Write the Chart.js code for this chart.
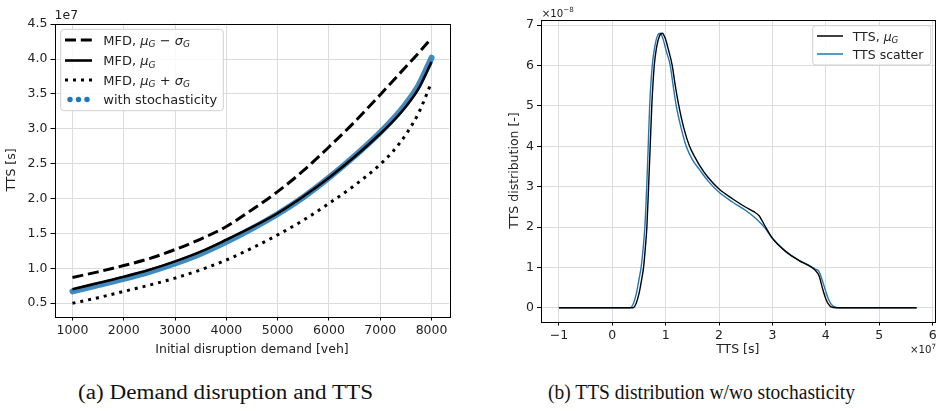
<!DOCTYPE html>
<html>
<head>
<meta charset="utf-8">
<script src="https://cdn.jsdelivr.net/npm/chart.js@4.4.0/dist/chart.umd.min.js"></script>
<style>
  body { margin: 0; background: #fff; width: 944px; height: 411px; position: relative; overflow: hidden; }
  canvas { position: absolute; top: 0; }
  .cap { position: absolute; font-family: 'Liberation Serif', serif; font-size: 20px; line-height: 24px;
         white-space: nowrap; transform-origin: 0 50%; color: #111; }
</style>
</head>
<body>
<canvas id="demandChart" width="470" height="365" style="left:0"></canvas>
<canvas id="distChart" width="474" height="365" style="left:470px"></canvas>
<span class="cap" id="capA" style="left:78px;top:380px">(a) Demand disruption and TTS</span>
<span class="cap" id="capB" style="left:548px;top:380px">(b) TTS distribution w/wo stochasticity</span>
<script>
const FONT = "'DejaVu Sans', sans-serif";
const TXT = '#222';
const GRID = '#dcdcdc';
const BLUE = '#1f77b4';

// left panel: TTS (x1e7 s) vs initial disruption demand
const demand = [1000, 1500, 2000, 2500, 3000, 3500, 4000, 4500, 5000, 5500, 6000, 6500, 7000, 7250, 7500, 7750, 8000];
const ttsMinusSigma = [0.87, 0.95, 1.04, 1.14, 1.27, 1.42, 1.60, 1.84, 2.10, 2.40, 2.74, 3.10, 3.49, 3.69, 3.89, 4.09, 4.30];
const ttsMean       = [0.70, 0.79, 0.88, 0.98, 1.10, 1.24, 1.41, 1.59, 1.79, 2.03, 2.30, 2.60, 2.93, 3.11, 3.32, 3.58, 3.96];
const ttsPlusSigma  = [0.50, 0.58, 0.67, 0.76, 0.86, 0.98, 1.12, 1.29, 1.48, 1.69, 1.93, 2.19, 2.49, 2.68, 2.92, 3.23, 3.67];
const ttsStochastic = [0.67, 0.76, 0.85, 0.95, 1.07, 1.21, 1.38, 1.57, 1.78, 2.02, 2.30, 2.61, 2.95, 3.14, 3.36, 3.63, 4.02];
const demandTicks = [1000, 2000, 3000, 4000, 5000, 6000, 7000, 8000];
const ttsTicks = [0.5, 1.0, 1.5, 2.0, 2.5, 3.0, 3.5, 4.0, 4.5];

// right panel: TTS distribution (x1e-8) over TTS (x1e7 s)
const distMeanX = [-1, 0, 0.3, 0.386, 0.45, 0.5, 0.55, 0.586, 0.62, 0.648, 0.68, 0.71, 0.74, 0.786, 0.83, 0.88, 0.936, 0.99, 1.05, 1.123, 1.18, 1.247, 1.34, 1.447, 1.56, 1.634, 1.8, 2.0, 2.25, 2.5, 2.65, 2.75, 2.85, 3.0, 3.25, 3.5, 3.7, 3.8, 3.87, 3.95, 4.0, 4.05, 4.1, 4.2, 5.7];
const distMeanY = [0, 0, 0, 0, 0.12, 0.35, 0.7, 1.0, 1.5, 2.0, 3.0, 4.0, 5.0, 6.0, 6.45, 6.72, 6.80, 6.68, 6.40, 6.0, 5.5, 5.0, 4.45, 4.0, 3.70, 3.53, 3.22, 2.94, 2.70, 2.49, 2.38, 2.28, 2.05, 1.72, 1.39, 1.17, 1.03, 0.93, 0.80, 0.42, 0.22, 0.09, 0.02, 0, 0];
const distScatterX = [-1, 0, 0.25, 0.33, 0.40, 0.45, 0.50, 0.54, 0.58, 0.61, 0.645, 0.673, 0.70, 0.749, 0.80, 0.85, 0.898, 0.95, 1.01, 1.086, 1.14, 1.198, 1.29, 1.385, 1.5, 1.634, 1.8, 2.0, 2.25, 2.5, 2.7, 2.85, 3.0, 3.25, 3.5, 3.7, 3.8, 3.87, 3.95, 4.0, 4.05, 4.1, 4.15, 4.25, 5.7];
const distScatterY = [0, 0, 0, 0, 0.12, 0.35, 0.7, 1.0, 1.5, 2.0, 3.0, 4.0, 5.0, 6.0, 6.5, 6.75, 6.80, 6.66, 6.36, 6.0, 5.5, 5.0, 4.45, 4.0, 3.67, 3.42, 3.13, 2.86, 2.62, 2.41, 2.20, 1.99, 1.72, 1.40, 1.17, 1.04, 0.96, 0.90, 0.61, 0.40, 0.21, 0.09, 0.03, 0, 0];
const distXTicks = [-1, 0, 1, 2, 3, 4, 5, 6];
const distYTicks = [0, 1, 2, 3, 4, 5, 6, 7];

function pairs(xs, ys) {
  return xs.map((x, i) => ({ x: x, y: ys[i] }));
}

// text with italic symbols and sub/superscripts
function drawRich(ctx, x, y, parts, size) {
  ctx.textAlign = 'left';
  ctx.textBaseline = 'alphabetic';
  parts.forEach(p => {
    const s = (p.sub || p.sup) ? size * 0.7 : size;
    ctx.font = (p.it ? 'italic ' : '') + s + 'px ' + FONT;
    let dy = 0;
    if (p.sub) dy = size * 0.22;
    if (p.sup) dy = -size * 0.42;
    ctx.fillText(p.t, x, y + dy);
    x += ctx.measureText(p.t).width;
  });
}

const framePlugin = {
  id: 'frame',
  afterDatasetsDraw(chart) {
    const a = chart.chartArea;
    const ctx = chart.ctx;
    ctx.save();
    ctx.strokeStyle = '#000';
    ctx.lineWidth = 1;
    ctx.strokeRect(Math.round(a.left) + 0.5, Math.round(a.top) + 0.5,
                   Math.round(a.right - a.left), Math.round(a.bottom - a.top));
    ctx.restore();
  }
};

function axis(ticks, fmt, extra) {
  return Object.assign({
    type: 'linear',
    border: { display: false },
    grid: { color: GRID, lineWidth: 1, drawTicks: true, tickLength: 4, tickColor: '#000' },
    ticks: { color: TXT, font: { family: FONT, size: 12.5 }, padding: 3, callback: fmt, autoSkip: false, maxRotation: 0 },
    afterBuildTicks: s => { s.ticks = ticks.map(v => ({ value: v })); }
  }, extra);
}

function axisTitle(text, pad) {
  return { display: true, text: text, color: TXT, font: { family: FONT, size: 12.5 }, padding: pad };
}

// ---------- left chart ----------
const demandLegend = {
  id: 'demandLegend',
  afterDraw(chart) {
    const ctx = chart.ctx;
    ctx.save();
    ctx.fillStyle = TXT;
    drawRich(ctx, 54.5, 18.5, [{ t: '1e7' }], 12.5);

    ctx.beginPath();
    ctx.roundRect(60.7, 29.3, 162.6, 81.4, 3);
    ctx.fillStyle = 'rgba(255,255,255,0.85)';
    ctx.fill();
    ctx.strokeStyle = '#d0d0d0';
    ctx.lineWidth = 1;
    ctx.stroke();

    const rows = [40, 60.5, 80, 99.5];
    const x0 = 65, x1 = 92, tx = 103.3, fs = 13;
    ctx.strokeStyle = '#000';
    ctx.lineWidth = 3;
    ctx.setLineDash([11, 4.8]);
    ctx.beginPath(); ctx.moveTo(x0, rows[0]); ctx.lineTo(x1, rows[0]); ctx.stroke();
    ctx.setLineDash([]);
    ctx.lineWidth = 2.6;
    ctx.beginPath(); ctx.moveTo(x0, rows[1]); ctx.lineTo(x1, rows[1]); ctx.stroke();
    ctx.lineWidth = 3;
    ctx.setLineDash([3, 5]);
    ctx.beginPath(); ctx.moveTo(x0, rows[2]); ctx.lineTo(x1, rows[2]); ctx.stroke();
    ctx.setLineDash([]);
    ctx.fillStyle = BLUE;
    [70, 78.5, 87].forEach(cx => {
      ctx.beginPath(); ctx.arc(cx, rows[3], 2.7, 0, Math.PI * 2); ctx.fill();
    });

    ctx.fillStyle = TXT;
    const off = 4.6;
    drawRich(ctx, tx, rows[0] + off, [{ t: 'MFD, ' }, { t: 'μ', it: 1 }, { t: 'G', it: 1, sub: 1 }, { t: ' − ' }, { t: 'σ', it: 1 }, { t: 'G', it: 1, sub: 1 }], fs);
    drawRich(ctx, tx, rows[1] + off, [{ t: 'MFD, ' }, { t: 'μ', it: 1 }, { t: 'G', it: 1, sub: 1 }], fs);
    drawRich(ctx, tx, rows[2] + off, [{ t: 'MFD, ' }, { t: 'μ', it: 1 }, { t: 'G', it: 1, sub: 1 }, { t: ' + ' }, { t: 'σ', it: 1 }, { t: 'G', it: 1, sub: 1 }], fs);
    drawRich(ctx, tx, rows[3] + off, [{ t: 'with stochasticity' }], fs);
    ctx.restore();
  }
};

new Chart(document.getElementById('demandChart'), {
  type: 'line',
  data: {
    datasets: [
      { label: 'MFD, mu_G', data: pairs(demand, ttsMean), borderColor: '#000', borderWidth: 2.6 },
      { label: 'MFD, mu_G - sigma_G', data: pairs(demand, ttsMinusSigma), borderColor: '#000', borderWidth: 3, borderDash: [11, 4.8] },
      { label: 'MFD, mu_G + sigma_G', data: pairs(demand, ttsPlusSigma), borderColor: '#000', borderWidth: 3, borderDash: [3, 5] },
      { label: 'with stochasticity', data: pairs(demand, ttsStochastic), borderColor: 'rgba(31,119,180,0.85)', borderWidth: 6, borderCapStyle: 'round' }
    ]
  },
  options: {
    responsive: false,
    animation: false,
    events: [],
    layout: { padding: { top: 23.5, right: 20.5, left: 0, bottom: 0 } },
    elements: { point: { radius: 0 }, line: { cubicInterpolationMode: 'monotone', fill: false } },
    plugins: { legend: { display: false }, tooltip: { enabled: false } },
    scales: {
      x: axis(demandTicks, v => String(v), {
        min: 650, max: 8350,
        title: axisTitle('Initial disruption demand [veh]', { top: 0, bottom: 7.5 }),
        afterFit: s => { s.height = 48.5; }
      }),
      y: axis(ttsTicks, v => v.toFixed(1), {
        min: 0.31, max: 4.51,
        title: axisTitle('TTS [s]', { top: 4.5, bottom: 0 }),
        afterFit: s => { s.width = 54.5; }
      })
    }
  },
  plugins: [framePlugin, demandLegend]
});

// ---------- right chart ----------
const distLegend = {
  id: 'distLegend',
  afterDraw(chart) {
    const ctx = chart.ctx;
    ctx.save();
    ctx.fillStyle = TXT;
    drawRich(ctx, 71.7, 16.7, [{ t: '×10' }, { t: '−8', sup: 1 }], 10.2);
    drawRich(ctx, 440, 353, [{ t: '×10' }, { t: '7', sup: 1 }], 10.2);

    ctx.beginPath();
    ctx.roundRect(342.7, 25.7, 118, 39.3, 3);
    ctx.fillStyle = 'rgba(255,255,255,0.85)';
    ctx.fill();
    ctx.strokeStyle = '#d0d0d0';
    ctx.lineWidth = 1;
    ctx.stroke();

    const rows = [36, 54];
    ctx.lineWidth = 1.5;
    ctx.strokeStyle = '#000';
    ctx.beginPath(); ctx.moveTo(347, rows[0]); ctx.lineTo(373, rows[0]); ctx.stroke();
    ctx.strokeStyle = BLUE;
    ctx.beginPath(); ctx.moveTo(347, rows[1]); ctx.lineTo(373, rows[1]); ctx.stroke();
    ctx.fillStyle = TXT;
    drawRich(ctx, 382.7, rows[0] + 4.5, [{ t: 'TTS, ' }, { t: 'μ', it: 1 }, { t: 'G', it: 1, sub: 1 }], 12.5);
    drawRich(ctx, 382.7, rows[1] + 4.5, [{ t: 'TTS scatter' }], 12.5);
    ctx.restore();
  }
};

new Chart(document.getElementById('distChart'), {
  type: 'line',
  data: {
    datasets: [
      { label: 'TTS, mu_G', data: pairs(distMeanX, distMeanY), borderColor: '#000', borderWidth: 1.4 },
      { label: 'TTS scatter', data: pairs(distScatterX, distScatterY), borderColor: BLUE, borderWidth: 1.4 }
    ]
  },
  options: {
    responsive: false,
    animation: false,
    events: [],
    layout: { padding: { top: 19.5, right: 9.5, left: 0, bottom: 0 } },
    elements: { point: { radius: 0 }, line: { cubicInterpolationMode: 'monotone', fill: false } },
    plugins: { legend: { display: false }, tooltip: { enabled: false } },
    scales: {
      x: axis(distXTicks, v => (v < 0 ? '\u2212' + Math.abs(v) : String(v)), {
        min: -1.335, max: 6.035,
        title: axisTitle('TTS [s]', { top: 0, bottom: 7.5 }),
        afterFit: s => { s.height = 43.5; }
      }),
      y: axis(distYTicks, v => String(v), {
        min: -0.34, max: 7.14,
        title: axisTitle('TTS distribution [-]', { top: 37.5, bottom: 0 }),
        afterFit: s => { s.width = 71; }
      })
    }
  },
  plugins: [framePlugin, distLegend]
});

// stretch captions to the width they take in the reference
function fitCaption(id, target) {
  const el = document.getElementById(id);
  const w = el.getBoundingClientRect().width;
  if (w > 0) el.style.transform = 'scaleX(' + (target / w) + ')';
}
fitCaption('capA', 295);
fitCaption('capB', 307);
</script>
</body>
</html>
